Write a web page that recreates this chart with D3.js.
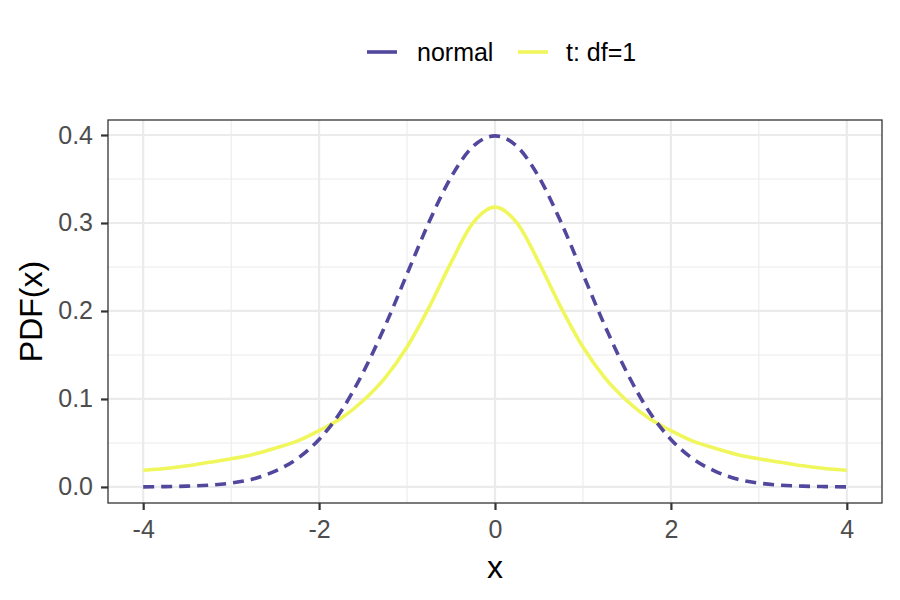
<!DOCTYPE html>
<html>
<head>
<meta charset="utf-8">
<script src="https://cdn.jsdelivr.net/npm/d3@7"></script>
<style>
  body { margin: 0; background: #fff; }
  svg { font-family: "Liberation Sans", Arial, sans-serif; }
</style>
</head>
<body>
<div id="chart"></div>
<script>
// values
const xs = [-4, -3.75, -3.5, -3.25, -3, -2.75, -2.5, -2.25, -2, -1.75, -1.5, -1.25, -1, -0.75, -0.5, -0.25,
  0, 0.25, 0.5, 0.75, 1, 1.25, 1.5, 1.75, 2, 2.25, 2.5, 2.75, 3, 3.25, 3.5, 3.75, 4];
const normalVals = [0.0001, 0.0004, 0.0009, 0.002, 0.0044, 0.009, 0.018, 0.032, 0.054, 0.086, 0.130, 0.183, 0.242, 0.301, 0.352, 0.387,
  0.399, 0.387, 0.352, 0.301, 0.242, 0.183, 0.130, 0.086, 0.054, 0.032, 0.018, 0.009, 0.0044, 0.002, 0.0009, 0.0004, 0.0001];
const tVals = [0.019, 0.021, 0.024, 0.028, 0.032, 0.037, 0.044, 0.052, 0.064, 0.078, 0.098, 0.124, 0.159, 0.204, 0.255, 0.300,
  0.318, 0.300, 0.255, 0.204, 0.159, 0.124, 0.098, 0.078, 0.064, 0.052, 0.044, 0.037, 0.032, 0.028, 0.024, 0.021, 0.019];
const seriesNames = ["normal", "t: df=1"];
const xTicks = [-4, -2, 0, 2, 4];
const xMinor = [-3, -1, 1, 3];
const yTicks = [0, 0.1, 0.2, 0.3, 0.4];
const yMinor = [0.05, 0.15, 0.25, 0.35];

const width = 900, height = 600;
const panel = { left: 108, right: 882, top: 120, bottom: 503 };

const svg = d3.select("#chart").append("svg")
  .attr("width", width)
  .attr("height", height);

const x = d3.scaleLinear().domain([-4.4, 4.4]).range([panel.left, panel.right]);
const y = d3.scaleLinear().domain([-0.01825, 0.41705]).range([panel.bottom, panel.top]);

// grid
const grid = svg.append("g");
grid.selectAll(".xminor").data(xMinor).join("line")
  .attr("x1", d => x(d)).attr("x2", d => x(d))
  .attr("y1", panel.top).attr("y2", panel.bottom)
  .attr("stroke", "#ebebeb").attr("stroke-width", 1.1);
grid.selectAll(".yminor").data(yMinor).join("line")
  .attr("y1", d => y(d)).attr("y2", d => y(d))
  .attr("x1", panel.left).attr("x2", panel.right)
  .attr("stroke", "#ebebeb").attr("stroke-width", 1.1);
grid.selectAll(".xmajor").data(xTicks).join("line")
  .attr("x1", d => x(d)).attr("x2", d => x(d))
  .attr("y1", panel.top).attr("y2", panel.bottom)
  .attr("stroke", "#ebebeb").attr("stroke-width", 2.2);
grid.selectAll(".ymajor").data(yTicks).join("line")
  .attr("y1", d => y(d)).attr("y2", d => y(d))
  .attr("x1", panel.left).attr("x2", panel.right)
  .attr("stroke", "#ebebeb").attr("stroke-width", 2.2);

// curves
const normalData = xs.map((v, i) => ({ x: v, y: normalVals[i] }));
const tData = xs.map((v, i) => ({ x: v, y: tVals[i] }));
const line = d3.line().x(d => x(d.x)).y(d => y(d.y)).curve(d3.curveMonotoneX);

svg.append("path")
  .datum(tData)
  .attr("fill", "none")
  .attr("stroke", "#f0f75c")
  .attr("stroke-width", 3.6)
  .attr("d", line);

svg.append("path")
  .datum(normalData)
  .attr("fill", "none")
  .attr("stroke", "#51479d")
  .attr("stroke-width", 3.6)
  .attr("stroke-dasharray", "11,7")
  .attr("d", line);

// panel border
svg.append("rect")
  .attr("x", panel.left).attr("y", panel.top)
  .attr("width", panel.right - panel.left).attr("height", panel.bottom - panel.top)
  .attr("fill", "none").attr("stroke", "#333333").attr("stroke-width", 1.3);

// axes
const xAxis = svg.append("g")
  .attr("transform", `translate(0,${panel.bottom})`)
  .call(d3.axisBottom(x).tickValues(xTicks).tickSize(7).tickPadding(10).tickFormat(d3.format("d")));
const yAxis = svg.append("g")
  .attr("transform", `translate(${panel.left},0)`)
  .call(d3.axisLeft(y).tickValues(yTicks).tickSize(7).tickPadding(8).tickFormat(d3.format(".1f")));
[xAxis, yAxis].forEach(a => {
  a.select(".domain").remove();
  a.selectAll(".tick line").attr("stroke", "#333333").attr("stroke-width", 2.2);
  a.selectAll(".tick text").attr("fill", "#4d4d4d").style("font-size", "25px")
    .style("font-family", "'Liberation Sans', Arial, sans-serif");
});
xAxis.selectAll(".tick text").text(d => d < 0 ? "-" + Math.abs(d) : d);

// axis titles
svg.append("text")
  .attr("x", (panel.left + panel.right) / 2).attr("y", 578)
  .attr("text-anchor", "middle").attr("font-size", 32).attr("fill", "#000")
  .text("x");
svg.append("text")
  .attr("transform", `translate(42,${(panel.top + panel.bottom) / 2}) rotate(-90)`)
  .attr("text-anchor", "middle").attr("font-size", 32).attr("fill", "#000")
  .text("PDF(x)");

// legend
const legendItems = [
  { name: seriesNames[0], color: "#51479d", x: 367, tx: 417 },
  { name: seriesNames[1], color: "#f0f75c", x: 518, tx: 566 }
];
const legend = svg.append("g");
legend.selectAll("line").data(legendItems).join("line")
  .attr("x1", d => d.x).attr("x2", d => d.x + 30)
  .attr("y1", 52).attr("y2", 52)
  .attr("stroke", d => d.color).attr("stroke-width", 3.6);
legend.selectAll("text").data(legendItems).join("text")
  .attr("x", d => d.tx).attr("y", 61)
  .attr("font-size", 25).attr("fill", "#000")
  .text(d => d.name);
</script>
</body>
</html>
